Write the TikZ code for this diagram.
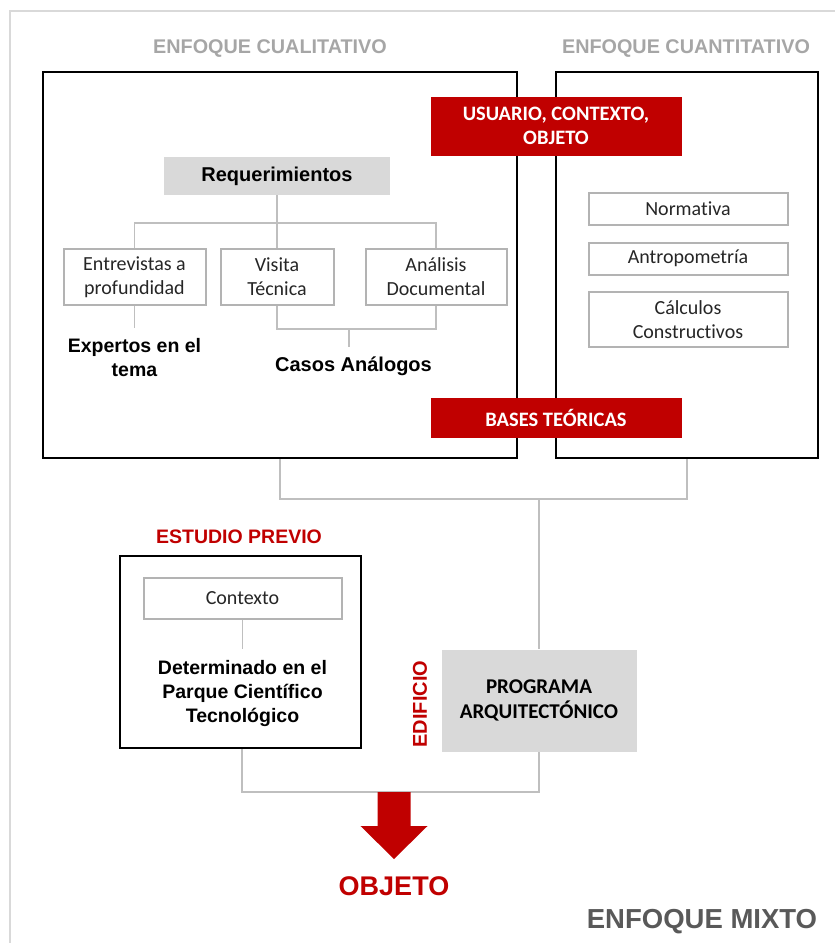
\documentclass[tikz,border=0pt]{standalone}
\usepackage{fontspec}
\setmainfont{Liberation Sans}
\newfontfamily\calibri[Ligatures=NoCommon]{Carlito}
\usetikzlibrary{positioning}
\definecolor{rojo}{HTML}{C00000}
\definecolor{grisfondo}{HTML}{D9D9D9}
\definecolor{grisborde}{HTML}{B3B3B3}
\definecolor{grislinea}{HTML}{BFBFBF}
\definecolor{gristitulo}{HTML}{A6A6A6}
\definecolor{grisoscuro}{HTML}{595959}
\newcommand{\tam}{\fontsize{19.5}{24}\selectfont}
\newcommand{\tamc}{\fontsize{20}{24}\selectfont}

\begin{document}
\begin{tikzpicture}[x=1pt, y=-1pt, node distance=15.5pt]
			\tikzstyle{marco} = [draw=black, line width=2pt, inner sep=0pt]
			\tikzstyle{caja} = [draw=grisborde, line width=2pt, fill=white, inner sep=0pt, align=center, text=black!85, font=\calibri\tamc]
			\tikzstyle{cajagris} = [fill=grisfondo, inner sep=0pt, align=center, text=black]
			\tikzstyle{cajaroja} = [fill=rojo, inner sep=0pt, align=center, text=white, font=\calibri\bfseries\fontsize{20.5}{24}\selectfont]
			\tikzstyle{titulo} = [text=gristitulo, font=\bfseries\fontsize{19.8}{24}\selectfont]
			\tikzstyle{negrita} = [align=center, text=black, font=\bfseries\tam]
			\tikzstyle{rojotxt} = [text=rojo, font=\bfseries\tam]
			\tikzstyle{conector} = [draw=grislinea, line width=1.5pt]
			\useasboundingbox (0,0) rectangle (835,943);
			\draw[grisfondo, line width=2.5pt] (835,11) -- (10,11) -- (10,943);
			\begin{scope}
			% enfoques cualitativo y cuantitativo
			\path
			node[marco, minimum width=474pt, minimum height=386pt] (cuali) at (280,265) {}
			node[marco, minimum width=262pt, minimum height=386pt] (cuanti) at (687,265) {}
			node[titulo] (tcuali) at (270,49) {ENFOQUE CUALITATIVO}
			node[titulo] (tcuanti) at (686,49) {ENFOQUE CUANTITATIVO}
			node[cajaroja, minimum width=251pt, minimum height=59pt] (usuario) at (556,126) {USUARIO, CONTEXTO,\\OBJETO}
			node[cajaroja, minimum width=251pt, minimum height=40pt] (bases) at (556,418) {BASES TE\'ORICAS}
			node[cajagris, minimum width=226pt, minimum height=38pt, font=\bfseries\fontsize{20}{24}\selectfont] (req) at (277,176) {Requerimientos}
			node[caja, minimum width=142pt, minimum height=56pt] (entre) at (134.5,277) {Entrevistas a\\profundidad}
			node[caja, minimum width=113pt, minimum height=56pt] (visita) at (277,277) {Visita\\T\'ecnica}
			node[caja, minimum width=141pt, minimum height=56pt] (anal) at (436,277) {An\'alisis\\Documental}
			node[negrita, inner ysep=11pt] (expertos) at (134.5,358) {Expertos en el\\tema}
			node[negrita, inner ysep=9.5pt, font=\bfseries\fontsize{20}{24}\selectfont] (casos) at (353.5,366) {Casos An\'alogos}
			node[caja, minimum width=199pt, minimum height=32pt] (norma) at (688,209) {Normativa}
			node[caja, minimum width=199pt, minimum height=32pt, below=of norma] (antropo) {Antropometr\'ia}
			node[caja, minimum width=199pt, minimum height=55pt, below=of antropo] (calculos) {C\'alculos\\Constructivos}
			;
			\coordinate (jcasos) at (349,328);
			\draw[conector] (req) -- (visita);
			\draw[conector] (entre.north) -- ++(0,-25) -| (anal.north);
			\draw[conector] (entre) -- (expertos);
			\draw[conector] (visita.south) -- ++(0,23) -| (anal.south);
			\draw[conector] (jcasos) -- (jcasos |- casos.north);
			\end{scope}
			\begin{scope}
			% estudio previo y programa
			\path
			node[rojotxt] (tprevio) at (239,537) {ESTUDIO PREVIO}
			node[marco, minimum width=241pt, minimum height=192pt] (estudio) at (240.5,652) {}
			node[caja, minimum width=198pt, minimum height=41pt] (contexto) at (242.5,598) {Contexto}
			node[negrita, inner ysep=11pt] (determ) at (242.5,693) {Determinado en el\\Parque Cient\'ifico\\Tecnol\'ogico}
			node[cajagris, minimum width=195pt, minimum height=102pt, font=\calibri\bfseries\fontsize{21}{25}\selectfont] (programa) at (539,700.5) {PROGRAMA\\ARQUITECT\'ONICO}
			node[rojotxt, rotate=90, font=\bfseries\fontsize{20}{24}\selectfont] (edificio) at (420,704) {EDIFICIO}
			node[text=rojo, font=\bfseries\fontsize{27}{30}\selectfont] (objeto) at (394,886) {OBJETO}
			node[text=grisoscuro, font=\bfseries\fontsize{27.5}{30}\selectfont] (mixto) at (702,922) {ENFOQUE MIXTO}
			;
			\coordinate (jbases) at (539,498);
			\draw[conector] (cuali.south) -- ++(0,40) -| (cuanti.south);
			\draw[conector] (jbases) -- (programa.north);
			\draw[conector] (contexto) -- (determ);
			\draw[conector] (estudio.south) ++(1.5,0) -- ++(0,43) -| (programa.south);
			\fill[rojo] (377.5,792) -- (410.5,792) -- (410.5,826) -- (427.5,826) -- (394,859) -- (360.5,826) -- (377.5,826) -- cycle;
			\end{scope}
\end{tikzpicture}
\end{document}
